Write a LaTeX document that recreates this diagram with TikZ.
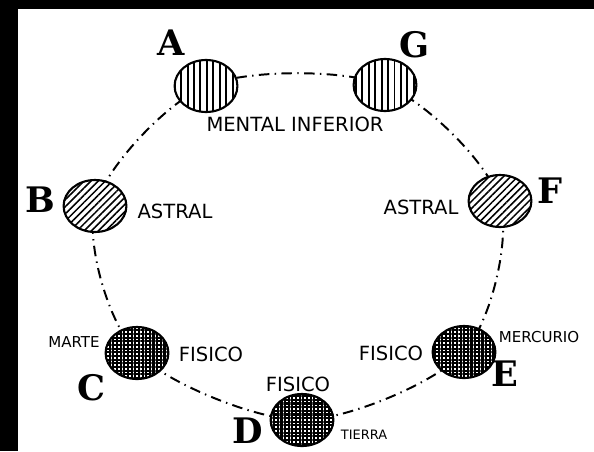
\documentclass[tikz,border=0pt]{standalone}
\usepackage{fontspec}
\setsansfont{DejaVu Sans}
\newfontfamily\letterfont{DejaVu Serif}
\usetikzlibrary{shapes.geometric,patterns.meta,backgrounds}

\begin{document}
\begin{tikzpicture}[
  plano/.style={ellipse, draw, line width=1.5pt, minimum width=1.57cm, minimum height=1.3cm, inner sep=0pt, preaction={fill=white}},
  mental/.style={plano, pattern={Lines[angle=90, distance=4.6pt, line width=1.4pt]}},
  astral/.style={plano, pattern={Lines[angle=45, distance=3.6pt, line width=1.1pt]}},
  fisico/.style={plano, pattern={Hatch[angle=0, distance=2.6pt, line width=1.5pt]}},
  letra/.style={font=\letterfont\bfseries\fontsize{25}{25}\selectfont, inner sep=0pt},
  planolbl/.style={font=\sffamily\fontsize{13.9}{14}\selectfont, inner sep=0pt},
  astrolbl/.style={font=\sffamily\fontsize{10.7}{11}\selectfont, inner sep=0pt},
  ring/.style={line width=1.4pt, dash pattern=on 7.5pt off 3.8pt on 1pt off 3.8pt},
]
\useasboundingbox (0,0) rectangle (14.85,11.275);

%% ── Frame (black edge, left and top) ─────────────────────────────────────────
\fill[black] (0,0) rectangle (0.46,11.275);
\fill[black] (0,11.05) rectangle (14.85,11.275);

%% ── Planes on the ring ───────────────────────────────────────────────────────
\node[mental] (A) at (5.15,  9.125) {};
\node[mental] (G) at (9.625, 9.15)  {};
\node[astral] (B) at (2.375, 6.125) {};
\node[astral] (F) at (12.5,  6.25)  {};
\node[fisico] (C) at (3.425, 2.45)  {};
\node[fisico] (D) at (7.55,  0.775) {};
\node[fisico] (E) at (11.6,  2.475) {};

%% ── Dash-dot ring through the planes ─────────────────────────────────────────
\begin{scope}[on background layer]
  \fill[white] (0,0) rectangle (14.85,11.275);
  \draw[ring] plot[smooth cycle] coordinates {(A.center) (G.center) (F.center)
    (E.center) (D.center) (C.center) (B.center)};
\end{scope}

%% ── Letters ──────────────────────────────────────────────────────────────────
\node[letra] (lblA) at (4.275, 10.2)  {A};
\node[letra] (lblG) at (10.35, 10.15) {G};
\node[letra] (lblB) at (1.0,   6.275) {B};
\node[letra] (lblF) at (13.75, 6.5)   {F};
\node[letra] (lblC) at (2.275, 1.575) {C};
\node[letra] (lblD) at (6.2,   0.5)   {D};
\node[letra] (lblE) at (12.625,1.925) {E};

%% ── Plane names ──────────────────────────────────────────────────────────────
\node[planolbl] (mental)  at (7.375, 8.175) {MENTAL INFERIOR};
\node[planolbl] (astralB) at (4.375, 6.0)   {ASTRAL};
\node[planolbl] (astralF) at (10.525,6.1)   {ASTRAL};
\node[planolbl] (fisicoC) at (5.275, 2.425) {FISICO};
\node[planolbl] (fisicoD) at (7.45,  1.675) {FISICO};
\node[planolbl] (fisicoE) at (9.775, 2.45)  {FISICO};

%% ── Globe names ──────────────────────────────────────────────────────────────
\node[astrolbl] (marte)    at (1.85,  2.725) {MARTE};
\node[astrolbl] (mercurio) at (13.475,2.85)  {MERCURIO};
\node[astrolbl, font=\sffamily\fontsize{9.2}{10}\selectfont] (tierra) at (9.1, 0.4) {TIERRA};

\end{tikzpicture}
\end{document}
